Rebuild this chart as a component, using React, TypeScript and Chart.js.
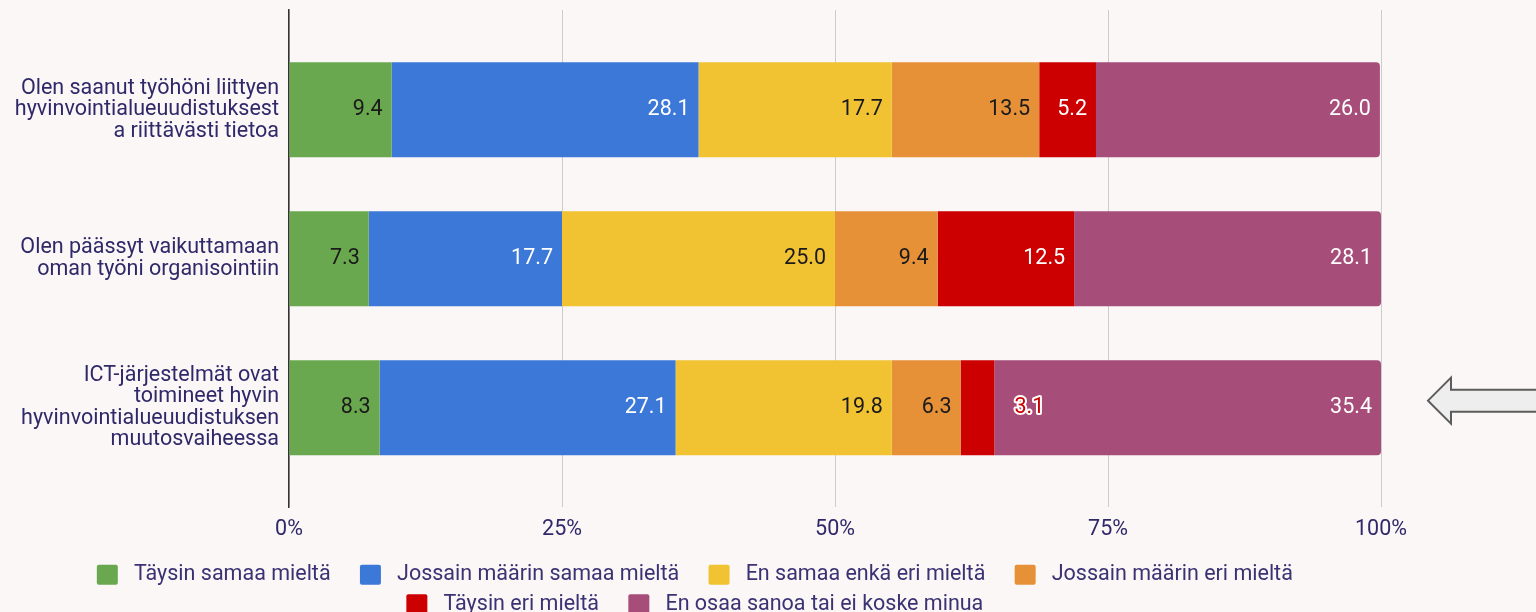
import React, { useEffect, useRef } from 'react';
import { Chart, registerables } from 'chart.js';

Chart.register(...registerables);

// ---- data ----
const categories: string[][] = [
  ['Olen saanut työhöni liittyen', 'hyvinvointialueuudistuksest', 'a riittävästi tietoa'],
  ['Olen päässyt vaikuttamaan', 'oman työni organisointiin'],
  ['ICT-järjestelmät ovat', 'toimineet hyvin', 'hyvinvointialueuudistuksen', 'muutosvaiheessa'],
];
const seriesNames = [
  'Täysin samaa mieltä',
  'Jossain määrin samaa mieltä',
  'En samaa enkä eri mieltä',
  'Jossain määrin eri mieltä',
  'Täysin eri mieltä',
  'En osaa sanoa tai ei koske minua',
];
const taysinSamaa = [9.4, 7.3, 8.3];
const jossainSamaa = [28.1, 17.7, 27.1];
const enSamaaEnkaEri = [17.7, 25.0, 19.8];
const jossainEri = [13.5, 9.4, 6.3];
const taysinEri = [5.2, 12.5, 3.1];
const enOsaa = [26.0, 28.1, 35.4];
const xTickValues = [0, 25, 50, 75, 100];

// ---- styles ----
const seriesValues = [taysinSamaa, jossainSamaa, enSamaaEnkaEri, jossainEri, taysinEri, enOsaa];
const colors = ['#6aa84f', '#3c78d8', '#f1c232', '#e69138', '#cc0000', '#a64d79'];
const valueColors = ['#1a1a1a', '#ffffff', '#1a1a1a', '#1a1a1a', '#ffffff', '#ffffff'];
const textColor = '#2f2869';
const legendColor = '#3a3273';
const BG = '#fbf7f6';
const FONT = 'Roboto';
const FS = 21.5;
const YFS = 21.5;

const valueLabelPlugin = {
  id: 'valueLabels',
  afterDatasetsDraw(chart: any) {
    const ctx = chart.ctx;
    const pad = 9;
    ctx.save();
    ctx.font = `${FS}px ${FONT}`;
    ctx.textBaseline = 'middle';
    chart.data.datasets.forEach((ds: any, di: number) => {
      const meta = chart.getDatasetMeta(di);
      meta.data.forEach((bar: any, i: number) => {
        const v = ds.data[i].x as number;
        const txt = v.toFixed(1);
        const { x, y, base } = bar.getProps(['x', 'y', 'base'], true);
        const w = ctx.measureText(txt).width;
        if (w + 2 * pad <= x - base) {
          ctx.textAlign = 'right';
          ctx.fillStyle = valueColors[di];
          ctx.fillText(txt, x - pad, y);
        } else {
          const tx = x + 20;
          ctx.textAlign = 'left';
          ctx.lineWidth = 4;
          ctx.lineJoin = 'round';
          ctx.strokeStyle = '#ffffff';
          ctx.strokeText(txt, tx, y);
          ctx.fillStyle = colors[di];
          ctx.fillText(txt, tx, y);
        }
      });
    });
    ctx.restore();
  },
};

const arrowPlugin = {
  id: 'sideArrow',
  afterDraw(chart: any) {
    const ctx = chart.ctx;
    const yScale = chart.scales.y;
    const cy = yScale.getPixelForValue(2) - 7;
    const tipX = chart.chartArea.right + 47;
    const headX = tipX + 23;
    ctx.save();
    ctx.beginPath();
    ctx.moveTo(tipX, cy);
    ctx.lineTo(headX, cy - 23);
    ctx.lineTo(headX, cy - 11);
    ctx.lineTo(chart.width + 10, cy - 11);
    ctx.lineTo(chart.width + 10, cy + 11);
    ctx.lineTo(headX, cy + 11);
    ctx.lineTo(headX, cy + 23);
    ctx.closePath();
    ctx.fillStyle = '#eeeeee';
    ctx.fill();
    ctx.lineWidth = 2;
    ctx.strokeStyle = '#5c5c5c';
    ctx.stroke();
    ctx.restore();
  },
};

export default function App() {
  const canvasRef = useRef<HTMLCanvasElement | null>(null);

  useEffect(() => {
    if (!canvasRef.current) return;
    const datasets = seriesValues.map((vals, si) => ({
      label: seriesNames[si],
      data: vals.map((v, i) => ({ x: v, y: i })),
      backgroundColor: colors[si],
      borderWidth: 0,
      borderRadius: si === seriesValues.length - 1 ? { topLeft: 0, bottomLeft: 0, topRight: 4, bottomRight: 4 } : 0,
      borderSkipped: false as any,
      barPercentage: 0.638,
      categoryPercentage: 1,
    }));

    const chart = new Chart(canvasRef.current, {
      type: 'bar',
      data: { datasets },
      options: {
        indexAxis: 'y',
        responsive: false,
        animation: false,
        layout: { padding: { left: 30, right: 155, top: 10, bottom: 0 } },
        scales: {
          x: {
            type: 'linear',
            stacked: true,
            min: 0,
            max: 100,
            offset: false,
            afterBuildTicks: (s: any) => {
              s.ticks = xTickValues.map((v) => ({ value: v }));
            },
            afterFit: (s: any) => {
              s.height = 49;
              s.paddingLeft = 0;
              s.paddingRight = 0;
            },
            ticks: {
              callback: (v: any) => `${v}%`,
              padding: 10,
              color: textColor,
              font: { family: FONT, size: FS },
            },
            grid: { color: '#cccccc', lineWidth: 1, drawTicks: false, offset: false },
            border: { display: false },
          },
          y: {
            type: 'linear',
            stacked: true,
            reverse: true,
            offset: false,
            min: -0.670,
            max: 2.667,
            afterBuildTicks: (s: any) => {
              s.ticks = categories.map((_, i) => ({ value: i }));
            },
            afterFit: (s: any) => {
              s.width = 289 - 30;
              s.paddingTop = 0;
              s.paddingBottom = 0;
              // let the long category labels extend into the left padding
              s._computeLabelArea = () => undefined;
            },
            ticks: {
              callback: (v: any) => categories[v as number] ?? '',
              padding: 10,
              autoSkip: false,
              color: textColor,
              font: { family: FONT, size: YFS, lineHeight: 1.0 },
            },
            grid: { display: false, drawTicks: false, offset: false },
            border: { display: true, color: '#333333', width: 1.5 },
          },
        },
        plugins: {
          tooltip: { enabled: false },
          title: { display: false },
          legend: {
            position: 'bottom',
            labels: {
              font: { family: FONT, size: FS },
              color: legendColor,
              boxWidth: 21,
              boxHeight: 20,
              padding: 8,
              useBorderRadius: true,
              borderRadius: 2,
              generateLabels: (c: any) =>
                c.data.datasets.map((ds: any, i: number) => ({
                  text: ' ' + ds.label + '    ',
                  fillStyle: colors[i],
                  strokeStyle: colors[i],
                  lineWidth: 0,
                  hidden: false,
                  datasetIndex: i,
                  fontColor: legendColor,
                  borderRadius: 2,
                })),
            },
          },
        },
      } as any,
      plugins: [valueLabelPlugin, arrowPlugin],
    });
    return () => chart.destroy();
  }, []);

  return (
    <div
      style={{
        position: 'fixed',
        left: 0,
        top: 0,
        width: 1536,
        height: 612,
        overflow: 'hidden',
        background: BG,
      }}
    >
      <canvas ref={canvasRef} width={1536} height={625} style={{ width: 1536, height: 625, display: 'block' }} />
    </div>
  );
}
